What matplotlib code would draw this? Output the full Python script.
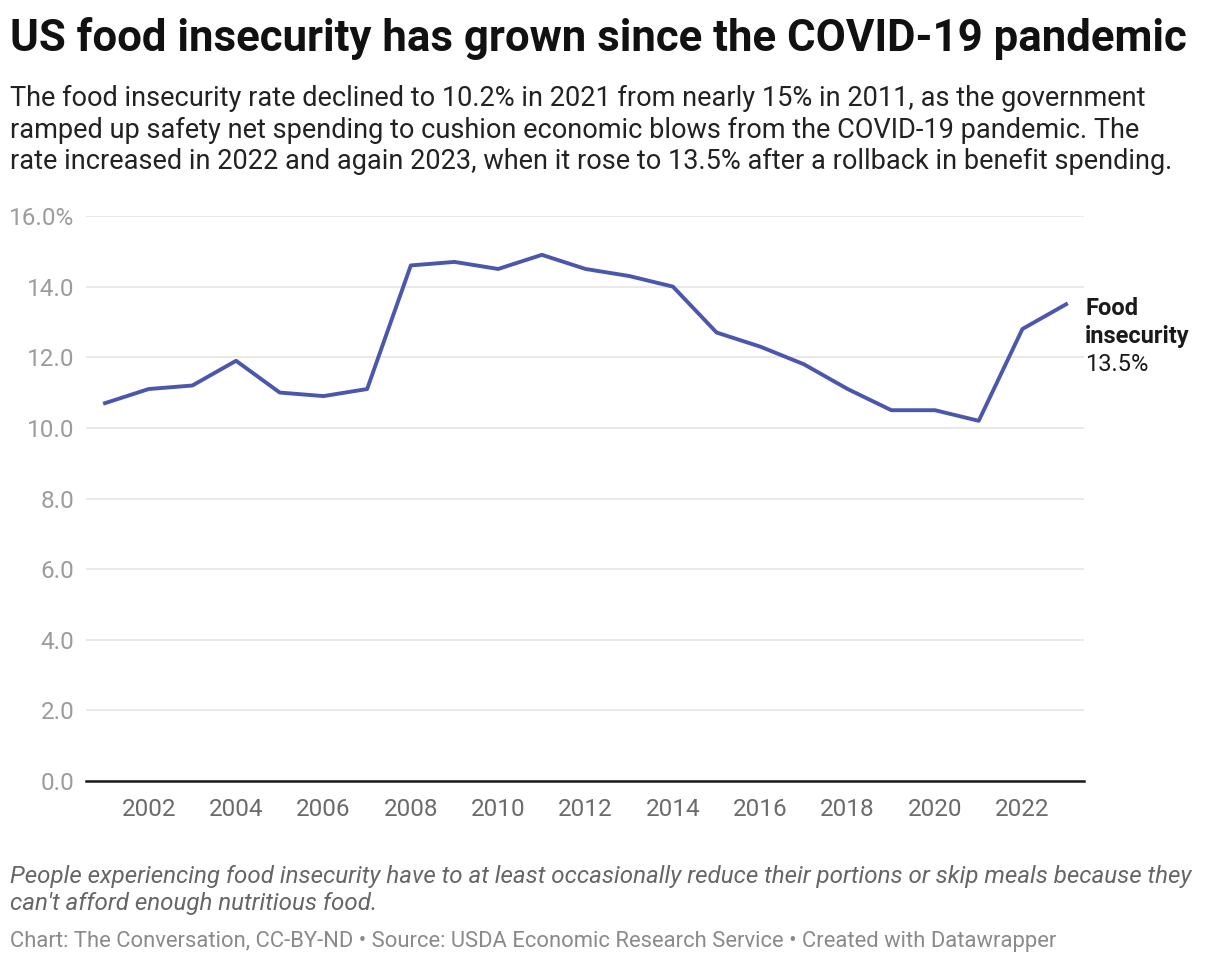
import matplotlib.pyplot as plt
import matplotlib.ticker as mticker

plt.rcParams['font.family'] = ['Roboto', 'DejaVu Sans']

years = list(range(2001, 2024))
rate = [10.7, 11.1, 11.2, 11.9, 11.0, 10.9, 11.1, 14.6, 14.7, 14.5, 14.9, 14.5,
        14.3, 14.0, 12.7, 12.3, 11.8, 11.1, 10.5, 10.5, 10.2, 12.8, 13.5]
yticks = [0, 2, 4, 6, 8, 10, 12, 14, 16]
xticks = list(range(2002, 2024, 2))

title = "US food insecurity has grown since the COVID-19 pandemic"
subtitle = ("The food insecurity rate declined to 10.2% in 2021 from nearly 15% in 2011, as the government\n"
            "ramped up safety net spending to cushion economic blows from the COVID-19 pandemic. The\n"
            "rate increased in 2022 and again 2023, when it rose to 13.5% after a rollback in benefit spending.")
note = ("People experiencing food insecurity have to at least occasionally reduce their portions or skip meals because they\n"
        "can't afford enough nutritious food.")
source = "Chart: The Conversation, CC-BY-ND • Source: USDA Economic Research Service • Created with Datawrapper"

W, H = 1220, 964
fig = plt.figure(figsize=(W / 100, H / 100), dpi=100)
ax = fig.add_axes([86 / W, 1 - 781 / H, (1084 - 86) / W, (781 - 216) / H])

ax.plot(years, rate, color='#4b57ac', lw=2.8, zorder=3)
ax.set_xlim(2000.565, 2023.41)
ax.set_ylim(0, 16)
ax.set_yticks(yticks)
ax.set_xticks(xticks)

def fmt(v, pos):
    return f"{v:.1f}%" if v == 16 else f"{v:.1f}"

ax.yaxis.set_major_formatter(mticker.FuncFormatter(fmt))
ax.grid(axis='y', color='#e3e3e3', lw=1.1)
ax.set_axisbelow(True)
for s in ['top', 'right', 'left']:
    ax.spines[s].set_visible(False)
ax.spines['bottom'].set_color('#1a1a1a')
ax.spines['bottom'].set_linewidth(1.8)
ax.tick_params(axis='y', length=0, pad=8.5, labelsize=17.5, labelcolor='#9c9c9c')
ax.tick_params(axis='x', length=0, pad=12, labelsize=17.5, labelcolor='#6b6b6b')

# line label
lab_x = 13.7
ax.annotate("Food", xy=(years[-1], rate[-1]), xytext=(lab_x, -3),
            textcoords='offset points', fontsize=17, fontweight='bold',
            color='#1a1a1a', va='center', ha='left')
ax.annotate("insecurity", xy=(years[-1], rate[-1]), xytext=(lab_x, -23),
            textcoords='offset points', fontsize=17, fontweight='bold',
            color='#1a1a1a', va='center', ha='left')
ax.annotate(f"{rate[-1]}%", xy=(years[-1], rate[-1]), xytext=(lab_x, -43),
            textcoords='offset points', fontsize=17, color='#1a1a1a',
            va='center', ha='left')

fig.text(10 / W, 1 - 38 / H, title, fontsize=31.5, fontweight='bold', color='#111111', va='center')
fig.text(10 / W, 1 - 130 / H, subtitle, fontsize=19.5, color='#222222', va='center', linespacing=1.23)
fig.text(10 / W, 1 - 890 / H, note, fontsize=17.4, style='italic', color='#666666', va='center', linespacing=1.22)
fig.text(10 / W, 1 - 941 / H, source, fontsize=15.8, color='#8a8a8a', va='center')

fig.savefig('out.png', dpi=100)
